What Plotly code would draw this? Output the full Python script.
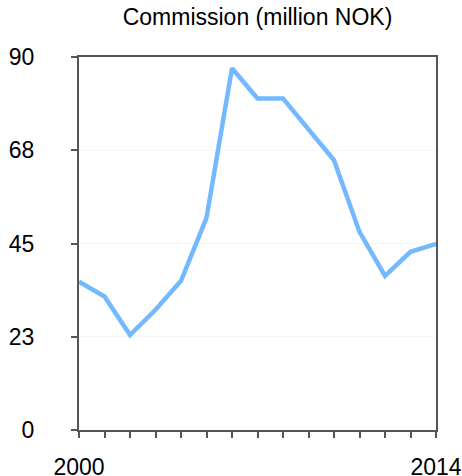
import plotly.graph_objects as go

years = list(range(2000, 2015))
commission = [35.8, 32.2, 22.9, 29.0, 36.0, 51.2, 87.3, 80.0, 80.0, 72.4, 65.1, 47.8, 37.2, 43.0, 44.9]
y_tickvals = [0, 22.5, 45, 67.5, 90]
y_ticktext = ["0", "23", "45", "68", "90"]
x_tickvals = years
x_ticktext = ["2000"] + [""] * 13 + ["2014"]

W, H = 462, 476

fig = go.Figure()
fig.add_trace(go.Scatter(
    x=years, y=commission, mode="lines",
    line=dict(color="#74b8ff", width=4.5),
    hoverinfo="x+y", showlegend=False,
))

axis_color = "#555555"
fig.update_layout(
    width=W, height=H,
    margin=dict(l=79, r=26, t=57, b=46),
    paper_bgcolor="white", plot_bgcolor="white",
    font=dict(family="Liberation Sans, Arial, sans-serif", color="black", size=23),
    title=dict(text="Commission (million NOK)", x=(79 + 436) / 2 / W, xanchor="center",
               y=1 - 16.5 / H, yanchor="middle", font=dict(size=23)),
    xaxis=dict(
        range=[2000, 2014], tickmode="array", tickvals=x_tickvals, ticktext=x_ticktext,
        ticks="outside", ticklen=6, tickwidth=2, tickcolor=axis_color,
        showline=True, linecolor=axis_color, linewidth=2, mirror=True,
        showgrid=False, zeroline=False, ticklabelstandoff=9, automargin=False,
        tickfont=dict(size=23),
    ),
    yaxis=dict(
        range=[0, 90], tickmode="array", tickvals=y_tickvals, ticktext=y_ticktext,
        ticks="outside", ticklen=6, tickwidth=2, tickcolor=axis_color,
        showline=True, linecolor=axis_color, linewidth=2, mirror=True,
        showgrid=True, gridcolor="#f6f6f6", gridwidth=1, zeroline=False,
        ticklabelstandoff=32, automargin=False, tickfont=dict(size=23),
    ),
)

# remove the default 8px body margin so the figure fills the window exactly
fig.write_html("out.html", config={"displayModeBar": False},
               post_script="document.body.style.margin='0';")
